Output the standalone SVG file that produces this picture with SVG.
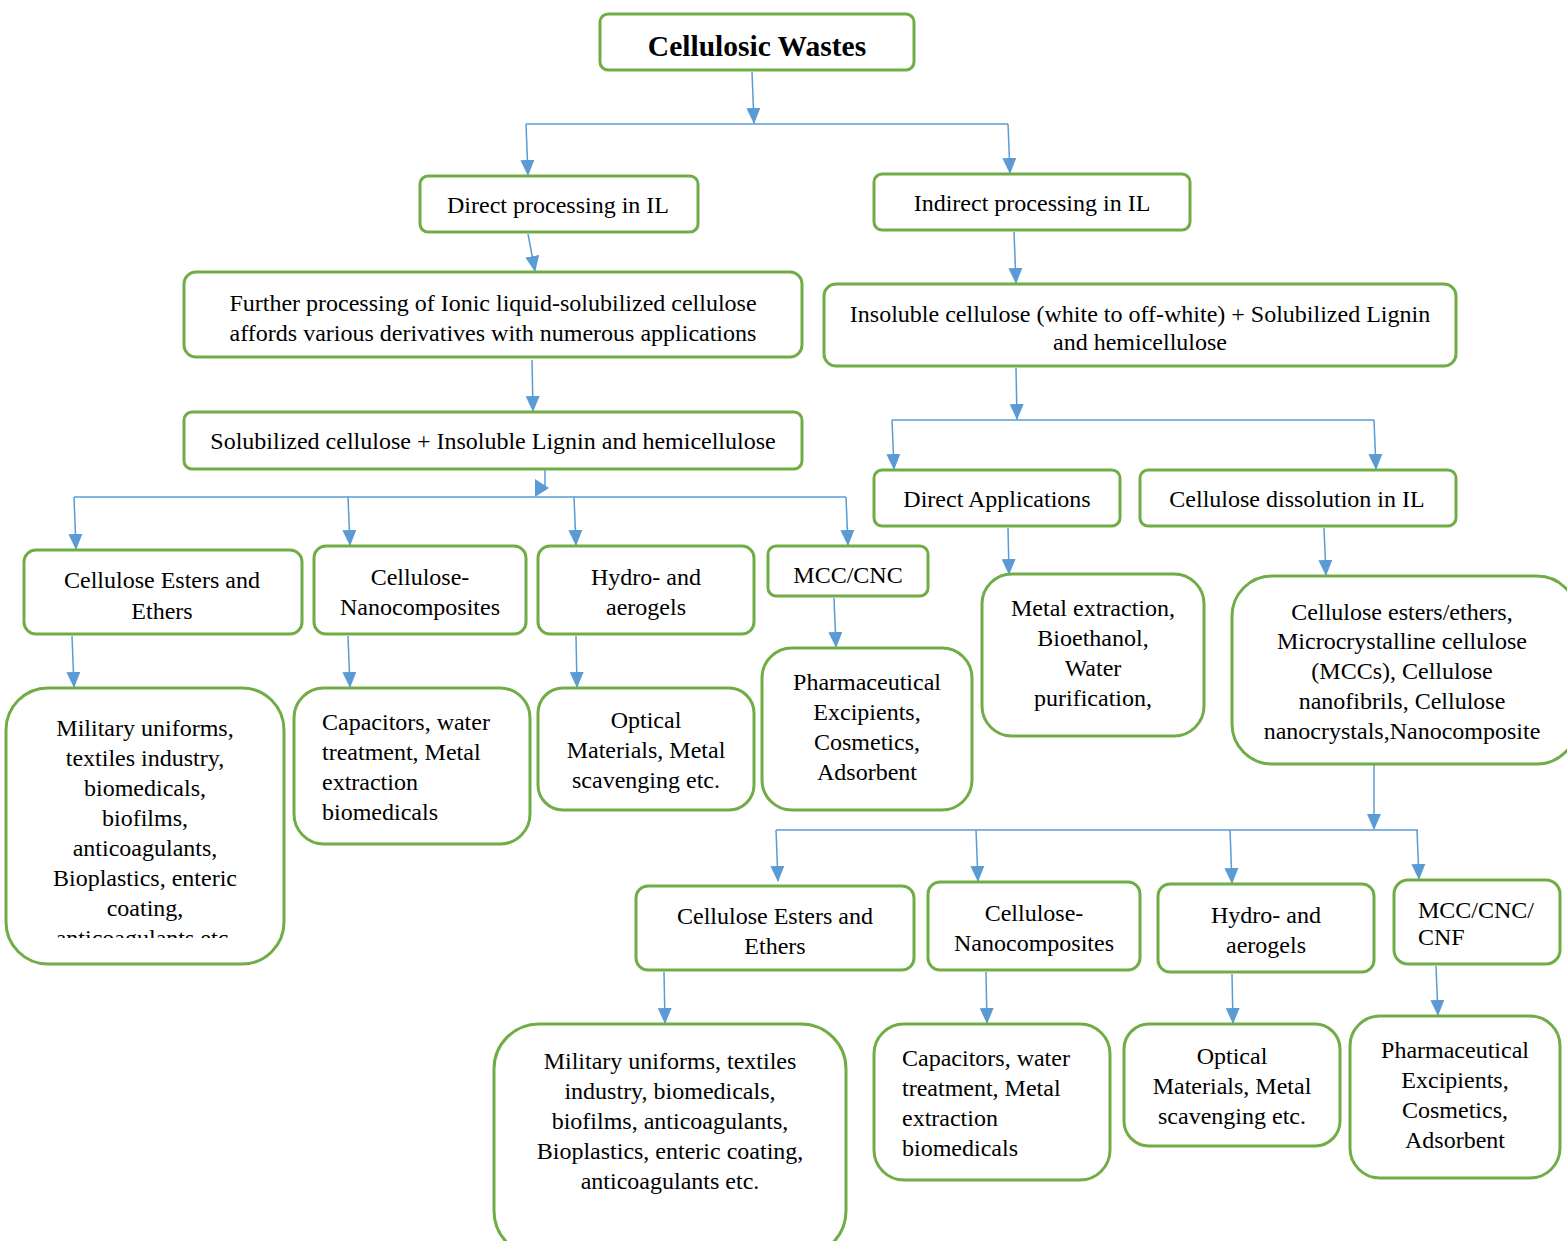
<svg xmlns="http://www.w3.org/2000/svg" width="1567" height="1241" viewBox="0 0 1567 1241">
<style>
.n{fill:#fff;stroke:#70AD47;stroke-width:3}
.t{font-family:'Liberation Serif','Times New Roman',serif;font-size:24px;fill:#000;text-anchor:middle}
.l{text-anchor:start}
.c{fill:none;stroke:#5B9BD5;stroke-width:1.5}
.a{marker-end:url(#ah)}
</style>
<defs>
<marker id="ah" markerUnits="userSpaceOnUse" markerWidth="16" markerHeight="16" viewBox="0 0 16 16" refX="15" refY="8" orient="auto">
<path d="M0,1 L16,8 L0,15 Z" fill="#5B9BD5"/>
</marker>
<clipPath id="clip1"><rect x="6" y="688" width="278" height="250"/></clipPath>
</defs>
<rect width="1567" height="1241" fill="#fff"/>
<g id="connectors">
<path class="c a" d="M752,72 L754,123"/>
<path class="c" d="M526,124 L1008,124"/>
<path class="c a" d="M526,124 L528,175"/>
<path class="c a" d="M1008,124 L1010,173"/>
<path class="c a" d="M528,234 L535,271"/>
<path class="c a" d="M1014,232 L1016,283"/>
<path class="c a" d="M532,360 L533,411"/>
<path class="c" d="M545,470 L545,488"/>
<polygon points="535,479 549,488 535,497" fill="#5B9BD5"/>
<path class="c" d="M74,497 L846,497"/>
<path class="c a" d="M74,497 L76,549"/>
<path class="c a" d="M348,497 L350,545"/>
<path class="c a" d="M574,497 L576,545"/>
<path class="c a" d="M846,497 L848,545"/>
<path class="c a" d="M72,636 L74,687"/>
<path class="c a" d="M348,636 L350,687"/>
<path class="c a" d="M576,636 L577,687"/>
<path class="c a" d="M834,598 L836,647"/>
<path class="c a" d="M1016,368 L1017,419"/>
<path class="c" d="M892,420 L1374,420"/>
<path class="c a" d="M892,420 L894,469"/>
<path class="c a" d="M1374,420 L1376,469"/>
<path class="c a" d="M1008,528 L1009,574"/>
<path class="c a" d="M1324,528 L1326,575"/>
<path class="c a" d="M1374,756 L1374,829"/>
<path class="c" d="M776,830 L1418,830"/>
<path class="c a" d="M776,830 L778,881"/>
<path class="c a" d="M976,830 L978,881"/>
<path class="c a" d="M1230,830 L1232,883"/>
<path class="c a" d="M1417,830 L1419,879"/>
<path class="c a" d="M664,972 L665,1023"/>
<path class="c a" d="M986,972 L987,1023"/>
<path class="c a" d="M1232,974 L1233,1023"/>
<path class="c a" d="M1436,966 L1438,1015"/>
</g>
<g id="n1"><rect class="n" x="600" y="14" width="314" height="56" rx="8"/><text class="t" x="757" y="56" style="font-size:29.5px;font-weight:bold">Cellulosic Wastes</text></g>
<g id="n2"><rect class="n" x="420" y="176" width="278" height="56" rx="8"/><text class="t" x="558" y="213">Direct processing in IL</text></g>
<g id="n3"><rect class="n" x="874" y="174" width="316" height="56" rx="8"/><text class="t" x="1032" y="211">Indirect processing in IL</text></g>
<g id="n4"><rect class="n" x="184" y="272" width="618" height="85" rx="12"/><text class="t" x="493" y="311">Further processing of Ionic liquid-solubilized cellulose</text><text class="t" x="493" y="341">affords various derivatives with numerous applications</text></g>
<g id="n5"><rect class="n" x="824" y="284" width="632" height="82" rx="12"/><text class="t" x="1140" y="322">Insoluble cellulose (white to off-white) + Solubilized Lignin</text><text class="t" x="1140" y="350">and hemicellulose</text></g>
<g id="n6"><rect class="n" x="184" y="412" width="618" height="57" rx="8"/><text class="t" x="493" y="449">Solubilized cellulose + Insoluble Lignin and hemicellulose</text></g>
<g id="n7"><rect class="n" x="24" y="550" width="278" height="84" rx="12"/><text class="t" x="162" y="588">Cellulose Esters and</text><text class="t" x="162" y="619">Ethers</text></g>
<g id="n8"><rect class="n" x="314" y="546" width="212" height="88" rx="12"/><text class="t" x="420" y="585">Cellulose-</text><text class="t" x="420" y="615">Nanocomposites</text></g>
<g id="n9"><rect class="n" x="538" y="546" width="216" height="88" rx="12"/><text class="t" x="646" y="585">Hydro- and</text><text class="t" x="646" y="615">aerogels</text></g>
<g id="n10"><rect class="n" x="768" y="546" width="160" height="50" rx="8"/><text class="t" x="848" y="583">MCC/CNC</text></g>
<g id="n11"><rect class="n" x="6" y="688" width="278" height="276" rx="42"/><g clip-path="url(#clip1)"><text class="t" x="145" y="736">Military uniforms,</text><text class="t" x="145" y="766">textiles industry,</text><text class="t" x="145" y="796">biomedicals,</text><text class="t" x="145" y="826">biofilms,</text><text class="t" x="145" y="856">anticoagulants,</text><text class="t" x="145" y="886">Bioplastics, enteric</text><text class="t" x="145" y="916">coating,</text><text class="t" x="145" y="946">anticoagulants etc.</text></g></g>
<g id="n12"><rect class="n" x="294" y="688" width="236" height="156" rx="30"/><text class="t l" x="322" y="730">Capacitors, water</text><text class="t l" x="322" y="760">treatment, Metal</text><text class="t l" x="322" y="790">extraction</text><text class="t l" x="322" y="820">biomedicals</text></g>
<g id="n13"><rect class="n" x="538" y="688" width="216" height="122" rx="25"/><text class="t" x="646" y="728">Optical</text><text class="t" x="646" y="758">Materials, Metal</text><text class="t" x="646" y="788">scavenging etc.</text></g>
<g id="n14"><rect class="n" x="762" y="648" width="210" height="162" rx="30"/><text class="t" x="867" y="690">Pharmaceutical</text><text class="t" x="867" y="720">Excipients,</text><text class="t" x="867" y="750">Cosmetics,</text><text class="t" x="867" y="780">Adsorbent</text></g>
<g id="n15"><rect class="n" x="874" y="470" width="246" height="56" rx="8"/><text class="t" x="997" y="507">Direct Applications</text></g>
<g id="n16"><rect class="n" x="1140" y="470" width="316" height="56" rx="8"/><text class="t" x="1297" y="507">Cellulose dissolution in IL</text></g>
<g id="n17"><rect class="n" x="982" y="574" width="222" height="162" rx="30"/><text class="t" x="1093" y="616">Metal extraction,</text><text class="t" x="1093" y="646">Bioethanol,</text><text class="t" x="1093" y="676">Water</text><text class="t" x="1093" y="706">purification,</text></g>
<g id="n18"><rect class="n" x="1232" y="576" width="345" height="188" rx="40"/><text class="t" x="1402" y="620">Cellulose esters/ethers,</text><text class="t" x="1402" y="649">Microcrystalline cellulose</text><text class="t" x="1402" y="679">(MCCs), Cellulose</text><text class="t" x="1402" y="709">nanofibrils, Cellulose</text><text class="t" x="1402" y="739">nanocrystals,Nanocomposite</text></g>
<g id="n19"><rect class="n" x="636" y="886" width="278" height="84" rx="12"/><text class="t" x="775" y="924">Cellulose Esters and</text><text class="t" x="775" y="954">Ethers</text></g>
<g id="n20"><rect class="n" x="928" y="882" width="212" height="88" rx="12"/><text class="t" x="1034" y="921">Cellulose-</text><text class="t" x="1034" y="951">Nanocomposites</text></g>
<g id="n21"><rect class="n" x="1158" y="884" width="216" height="88" rx="12"/><text class="t" x="1266" y="923">Hydro- and</text><text class="t" x="1266" y="953">aerogels</text></g>
<g id="n22"><rect class="n" x="1394" y="880" width="166" height="84" rx="14"/><text class="t l" x="1418" y="918">MCC/CNC/</text><text class="t l" x="1418" y="945">CNF</text></g>
<g id="n23"><rect class="n" x="494" y="1024" width="352" height="232" rx="45"/><text class="t" x="670" y="1069">Military uniforms, textiles</text><text class="t" x="670" y="1099">industry, biomedicals,</text><text class="t" x="670" y="1129">biofilms, anticoagulants,</text><text class="t" x="670" y="1159">Bioplastics, enteric coating,</text><text class="t" x="670" y="1189">anticoagulants etc.</text></g>
<g id="n24"><rect class="n" x="874" y="1024" width="236" height="156" rx="30"/><text class="t l" x="902" y="1066">Capacitors, water</text><text class="t l" x="902" y="1096">treatment, Metal</text><text class="t l" x="902" y="1126">extraction</text><text class="t l" x="902" y="1156">biomedicals</text></g>
<g id="n25"><rect class="n" x="1124" y="1024" width="216" height="122" rx="25"/><text class="t" x="1232" y="1064">Optical</text><text class="t" x="1232" y="1094">Materials, Metal</text><text class="t" x="1232" y="1124">scavenging etc.</text></g>
<g id="n26"><rect class="n" x="1350" y="1016" width="210" height="162" rx="30"/><text class="t" x="1455" y="1058">Pharmaceutical</text><text class="t" x="1455" y="1088">Excipients,</text><text class="t" x="1455" y="1118">Cosmetics,</text><text class="t" x="1455" y="1148">Adsorbent</text></g>
</svg>
